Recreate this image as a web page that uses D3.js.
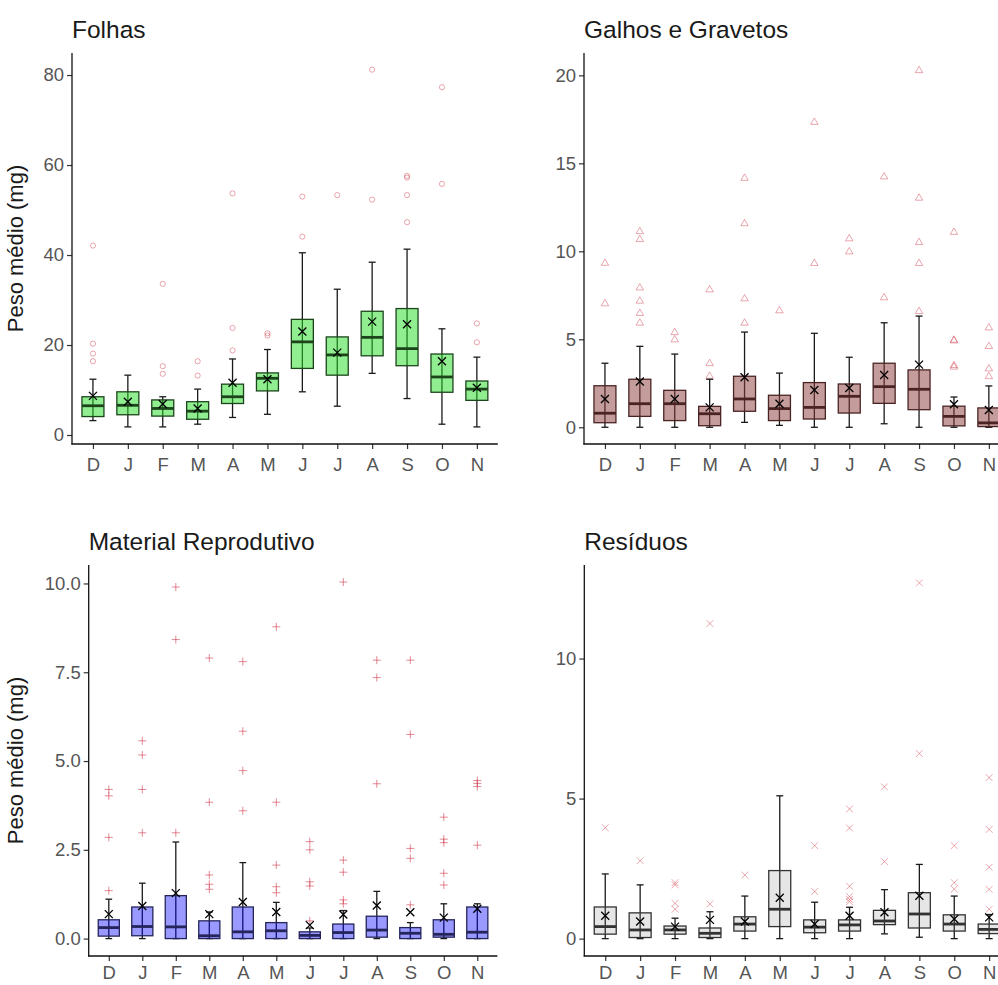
<!DOCTYPE html>
<html>
<head>
<meta charset="utf-8">
<script src="https://cdn.jsdelivr.net/npm/d3@7"></script>
<style>
  html, body { margin: 0; padding: 0; background: #fff; }
  svg { display: block; overflow: hidden; }
  text { font-family: "Liberation Sans", Arial, sans-serif; }
</style>
</head>
<body>
<svg id="chart" width="998" height="985"></svg>
<script>
// Month labels (Dec to Nov)
const months = ["D", "J", "F", "M", "A", "M", "J", "J", "A", "S", "O", "N"];

// Folhas
const folhasLow  = [3.2, 1.8, 1.8, 2.4, 3.9, 4.6, 9.6, 6.4, 13.7, 8.1, 2.4, 1.8];
const folhasQ1   = [4.1, 4.5, 4.2, 3.5, 7.0, 9.8, 14.8, 13.3, 17.6, 15.4, 9.5, 7.7];
const folhasMed  = [6.5, 6.6, 5.9, 5.3, 8.5, 12.6, 20.7, 17.8, 21.7, 19.2, 12.9, 10.2];
const folhasQ3   = [8.5, 9.6, 7.8, 7.4, 11.3, 13.8, 25.7, 21.8, 27.5, 28.1, 18.0, 12.0];
const folhasHigh = [12.4, 13.3, 8.5, 10.2, 16.9, 19.0, 40.5, 32.4, 38.4, 41.3, 23.6, 17.3];
const folhasMean = [8.7, 7.4, 6.9, 5.9, 11.6, 12.4, 23.0, 18.3, 25.2, 24.6, 16.4, 10.5];
const folhasOut  = [[42.1, 20.3, 18.1, 16.4], [], [33.6, 15.3, 13.6], [16.4, 13.2],
                    [53.7, 23.8, 18.8], [22.6, 22.1], [53.0, 44.1], [53.3],
                    [81.2, 52.3], [57.6, 57.2, 53.3, 47.3], [77.3, 55.8], [24.8, 20.6]];

// Galhos e Gravetos
const galhosLow  = [0, 0, 0, 0, 0.28, 0.11, 0, 0, 0.2, 0, 0, 0];
const galhosQ1   = [0.26, 0.62, 0.38, 0.09, 0.91, 0.38, 0.47, 0.81, 1.36, 1.0, 0.08, 0.04];
const galhosMed  = [0.8, 1.34, 1.34, 0.77, 1.61, 1.06, 1.13, 1.76, 2.31, 2.16, 0.62, 0.25];
const galhosQ3   = [2.36, 2.73, 2.1, 1.19, 2.9, 1.82, 2.54, 2.46, 3.64, 3.26, 1.2, 1.1];
const galhosHigh = [3.64, 4.6, 4.16, 2.73, 5.41, 3.08, 5.34, 3.98, 5.94, 6.32, 1.72, 2.35];
const galhosMean = [1.61, 2.6, 1.61, 1.13, 2.84, 1.34, 2.12, 2.23, 2.97, 3.56, 1.31, 0.98];
const galhosOut  = [[9.35, 7.05], [11.15, 10.7, 7.95, 7.2, 6.5, 5.95], [5.41, 5.0],
                    [7.84, 3.65, 2.93], [14.18, 11.6, 7.33, 5.95], [6.65], [17.36, 9.34],
                    [10.74, 10.0], [14.26, 7.39], [20.3, 13.05, 10.53, 9.34, 6.61],
                    [11.11, 4.98, 4.94, 3.54, 3.45], [5.68, 4.62, 3.35, 2.91]];

// Material Reprodutivo
const reprodLow  = [0, 0, 0, 0, 0, 0, 0, 0, 0, 0, 0, 0];
const reprodQ1   = [0.07, 0.08, 0, 0, 0, 0, 0, 0, 0.04, 0, 0.04, 0];
const reprodMed  = [0.31, 0.34, 0.33, 0.08, 0.19, 0.22, 0.09, 0.17, 0.24, 0.15, 0.12, 0.18];
const reprodQ3   = [0.53, 0.89, 1.21, 0.5, 0.89, 0.45, 0.19, 0.41, 0.63, 0.31, 0.53, 0.89];
const reprodHigh = [1.11, 1.56, 2.72, 0.75, 2.14, 1.02, 0.3, 0.79, 1.33, 0.45, 0.98, 0.98];
const reprodMean = [0.69, 0.92, 1.28, 0.69, 1.03, 0.75, 0.38, 0.68, 0.93, 0.74, 0.59, 0.84];
const reprodOut  = [[4.2, 4.02, 2.85, 1.35], [5.57, 5.17, 4.2, 2.98], [9.9, 8.42, 2.98],
                    [7.9, 3.84, 1.79, 1.53, 1.39], [7.8, 5.84, 4.73, 3.6],
                    [8.78, 3.84, 2.07, 1.46, 1.29], [2.73, 2.5, 1.6, 1.48, 0.5],
                    [10.04, 2.21, 1.87, 1.09, 0.98], [7.84, 7.35, 4.36],
                    [7.84, 5.75, 2.54, 2.26, 0.95], [3.42, 2.8, 2.7, 1.84, 1.51],
                    [4.45, 4.37, 4.28, 2.63]];

// Resíduos
const residLow  = [0, 0, 0, 0, 0, 0, 0, 0, 0.17, 0.05, 0, 0];
const residQ1   = [0.16, 0.04, 0.16, 0.04, 0.27, 0.43, 0.21, 0.27, 0.5, 0.38, 0.27, 0.18];
const residMed  = [0.43, 0.31, 0.31, 0.19, 0.52, 1.05, 0.41, 0.49, 0.63, 0.88, 0.52, 0.33];
const residQ3   = [1.13, 0.92, 0.45, 0.38, 0.78, 2.43, 0.67, 0.67, 1.01, 1.64, 0.85, 0.52];
const residHigh = [2.31, 1.92, 0.73, 0.96, 1.52, 5.1, 1.3, 1.12, 1.75, 2.65, 1.52, 0.86];
const residMean = [0.82, 0.61, 0.43, 0.67, 0.61, 1.46, 0.52, 0.82, 0.94, 1.53, 0.7, 0.76];
const residOut  = [[3.96], [2.78], [2.0, 1.92, 1.26, 1.05], [11.25, 1.24], [2.27], [],
                   [3.32, 1.68], [4.63, 3.95, 1.87, 1.5, 1.4, 1.32], [5.42, 2.75],
                   [12.7, 6.61], [3.32, 2.0, 1.77], [5.75, 3.9, 2.55, 1.76, 1.05]];

const folhasTicks = [0, 20, 40, 60, 80];
const galhosTicks = [0, 5, 10, 15, 20];
const reprodTicks = [0, 2.5, 5, 7.5, 10];
const residTicks  = [0, 5, 10];

const svg = d3.select("#chart");
const outlierColor = "#cf3b4b";

function buildRows(low, q1, med, q3, high, mean, out) {
  return months.map((m, i) => ({
    i, low: low[i], q1: q1[i], med: med[i], q3: q3[i], high: high[i],
    mean: mean[i], out: out[i]
  }));
}

function drawOutlier(g, shape, x, y) {
  const s = 3.4;
  if (shape === "circle") {
    g.append("circle").attr("cx", x).attr("cy", y).attr("r", 2.6)
      .attr("fill", "none").attr("stroke", outlierColor).attr("stroke-opacity", 0.45).attr("stroke-width", 1);
  } else if (shape === "triangle") {
    const h = 6.4;
    g.append("path")
      .attr("d", `M${x},${y - h * 0.6} L${x + 3.7},${y + h * 0.4} L${x - 3.7},${y + h * 0.4} Z`)
      .attr("fill", "none").attr("stroke", outlierColor).attr("stroke-opacity", 0.45).attr("stroke-width", 1);
  } else if (shape === "plus") {
    g.append("path")
      .attr("d", `M${x - 4},${y} H${x + 4} M${x},${y - 4} V${y + 4}`)
      .attr("stroke", outlierColor).attr("stroke-opacity", 0.6).attr("stroke-width", 1);
  } else {
    g.append("path")
      .attr("d", `M${x - s},${y - s} L${x + s},${y + s} M${x - s},${y + s} L${x + s},${y - s}`)
      .attr("stroke", outlierColor).attr("stroke-opacity", 0.45).attr("stroke-width", 1);
  }
}

function drawPanel(cfg) {
  const g = svg.append("g");
  const x = d3.scalePoint().domain(d3.range(months.length))
    .range([cfg.left, cfg.left + cfg.width]).padding(0.6);
  const y = d3.scaleLinear().domain(cfg.domain).range([cfg.bottom, cfg.top]);
  const step = x.step();
  const boxW = step * 0.63;
  const capW = step * 0.2;

  // title
  g.append("text").attr("x", cfg.left).attr("y", cfg.top - 15)
    .attr("font-size", 24.5).attr("fill", "#1a1a1a").text(cfg.title);

  // y label
  if (cfg.ylabel) {
    g.append("text")
      .attr("transform", `translate(${cfg.left - cfg.ylabelOffset},${(cfg.top + cfg.bottom) / 2}) rotate(-90)`)
      .attr("text-anchor", "middle").attr("font-size", 22).attr("fill", "#1a1a1a")
      .text(cfg.ylabel);
  }

  // axes
  const yAxis = d3.axisLeft(y).tickValues(cfg.ticks).tickFormat(cfg.fmt)
    .tickSize(5).tickPadding(3);
  const ya = g.append("g").attr("transform", `translate(${cfg.left},0)`).call(yAxis);
  ya.select(".domain").remove();
  const xAxis = d3.axisBottom(x).tickFormat(i => months[i]).tickSize(5).tickPadding(cfg.xPad);
  const xa = g.append("g").attr("transform", `translate(0,${cfg.bottom})`).call(xAxis);
  xa.select(".domain").remove();
  [ya, xa].forEach(a => {
    a.selectAll("text").attr("font-size", 18.5).attr("fill", "#555")
      .attr("font-family", '"Liberation Sans", Arial, sans-serif');
    a.selectAll("line").attr("stroke", "#333").attr("stroke-width", 1.2);
  });
  g.append("line").attr("x1", cfg.left).attr("x2", cfg.left)
    .attr("y1", cfg.top).attr("y2", cfg.bottom + 0.6)
    .attr("stroke", "#111").attr("stroke-width", 1.3);
  g.append("line").attr("x1", cfg.left - 0.6).attr("x2", cfg.left + cfg.width)
    .attr("y1", cfg.bottom).attr("y2", cfg.bottom)
    .attr("stroke", "#111").attr("stroke-width", 1.3);

  const rows = cfg.rows;

  // outliers
  const og = g.append("g");
  rows.forEach(r => r.out.forEach(v => drawOutlier(og, cfg.shape, x(r.i), y(v))));

  // whisker bars with caps (drawn beneath the translucent boxes)
  const wg = g.append("g").attr("stroke", "#1a1a1a").attr("stroke-width", 1.3);
  rows.forEach(r => {
    const cx = x(r.i);
    wg.append("line").attr("x1", cx).attr("x2", cx).attr("y1", y(r.low)).attr("y2", y(r.high));
    wg.append("line").attr("x1", cx - capW / 2).attr("x2", cx + capW / 2).attr("y1", y(r.low)).attr("y2", y(r.low));
    wg.append("line").attr("x1", cx - capW / 2).attr("x2", cx + capW / 2).attr("y1", y(r.high)).attr("y2", y(r.high));
  });

  // boxes
  const bg = g.append("g");
  rows.forEach(r => {
    const cx = x(r.i);
    bg.append("rect").attr("x", cx - boxW / 2).attr("width", boxW)
      .attr("y", y(r.q3)).attr("height", Math.max(0.5, y(r.q1) - y(r.q3)))
      .attr("fill", cfg.fill).attr("fill-opacity", cfg.fillOpacity)
      .attr("stroke", cfg.edge).attr("stroke-width", 1.3);
    bg.append("line").attr("x1", cx - boxW / 2).attr("x2", cx + boxW / 2)
      .attr("y1", y(r.med)).attr("y2", y(r.med))
      .attr("stroke", cfg.edge).attr("stroke-width", 2.8);
  });

  // means
  const mg = g.append("g").attr("stroke", "#000").attr("stroke-width", 1.3);
  rows.forEach(r => {
    const cx = x(r.i), cy = y(r.mean), s = 4;
    mg.append("path").attr("d", `M${cx - s},${cy - s} L${cx + s},${cy + s} M${cx - s},${cy + s} L${cx + s},${cy - s}`);
  });
}

drawPanel({
  title: "Folhas", ylabel: "Peso médio (mg)", ylabelOffset: 49,
  left: 72, top: 53, bottom: 444, width: 425.8, domain: [-2, 84.9], xPad: 9,
  ticks: folhasTicks, fmt: d3.format("d"), shape: "circle",
  fill: "#21dd21", fillOpacity: 0.5, edge: "#1c451c",
  rows: buildRows(folhasLow, folhasQ1, folhasMed, folhasQ3, folhasHigh, folhasMean, folhasOut)
});
drawPanel({
  title: "Galhos e Gravetos", ylabel: null,
  left: 584, top: 53, bottom: 444, width: 425.8, domain: [-0.95, 21.27], xPad: 9,
  ticks: galhosTicks, fmt: d3.format("d"), shape: "triangle",
  fill: "#8b3a3a", fillOpacity: 0.5, edge: "#4a2424",
  rows: buildRows(galhosLow, galhosQ1, galhosMed, galhosQ3, galhosHigh, galhosMean, galhosOut)
});
drawPanel({
  title: "Material Reprodutivo", ylabel: "Peso médio (mg)", ylabelOffset: 65.7,
  left: 88.7, top: 565, bottom: 956, width: 408.7, domain: [-0.49, 10.52], xPad: 5,
  ticks: reprodTicks, fmt: d3.format(".1f"), shape: "plus",
  fill: "#0000ff", fillOpacity: 0.4, edge: "#25255c",
  rows: buildRows(reprodLow, reprodQ1, reprodMed, reprodQ3, reprodHigh, reprodMean, reprodOut)
});
drawPanel({
  title: "Resíduos", ylabel: null,
  left: 584.3, top: 565, bottom: 956, width: 425.8, domain: [-0.62, 13.34], xPad: 5,
  ticks: residTicks, fmt: d3.format("d"), shape: "x",
  fill: "#808080", fillOpacity: 0.2, edge: "#333333",
  rows: buildRows(residLow, residQ1, residMed, residQ3, residHigh, residMean, residOut)
});
</script>
</body>
</html>
